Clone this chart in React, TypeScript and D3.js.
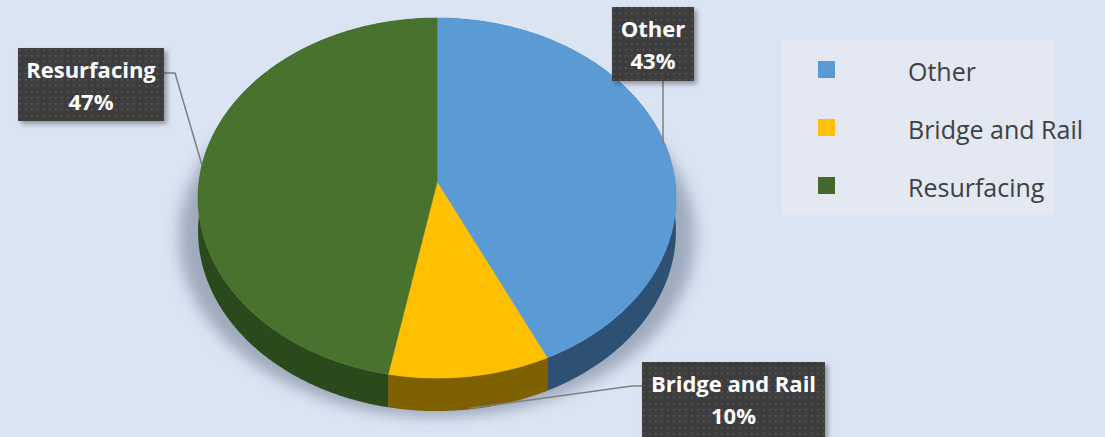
import React from 'react';
import * as d3 from 'd3';

// chart data
const categories = ['Other', 'Bridge and Rail', 'Resurfacing'];
const values = [43, 10, 47];
const percentLabels = ['43%', '10%', '47%'];
const topColors = ['#5b9bd5', '#ffc000', '#48722d'];
const sideColors = ['#2e5073', '#7f6000', '#2b4a1c'];
const legendColors = ['#5b9bd5', '#ffc000', '#436a2b'];

// label box layout (box + elbow of the leader line)
const labelBoxes = [
  { x: 612, y: 7, w: 82, h: 74, elbow: null as null | [number, number], start: [663, 81] as [number, number] },
  { x: 642, y: 362, w: 183, h: 75, elbow: [632, 386] as [number, number], start: [642, 386] as [number, number] },
  { x: 18, y: 48, w: 146, h: 73, elbow: [175, 73] as [number, number], start: [164, 73] as [number, number] },
];

const W = 1105;
const H = 437;

// pie geometry (perspective circle)
const apex = { x: 437, y: 182 };
const k = 0.089; // perspective strength
const sx = 238;
const sy = 178.6;
const depth = 33;

const project = (a: number, dy = 0): [number, number] => {
  const X = Math.sin(a);
  const Y = -Math.cos(a);
  const w = 1 - k * Y;
  return [apex.x + (sx * X) / w, apex.y + (sy * Y) / w + dy];
};

const arcPoints = (a0: number, a1: number, dy = 0) => {
  const n = Math.max(2, Math.ceil((a1 - a0) / 0.01));
  return d3.range(n + 1).map((i) => project(a0 + ((a1 - a0) * i) / n, dy));
};

const line = d3.line();

export default function App() {
  const arcs = d3.pie<number>().sort(null).value((d) => d)(values);

  const tops = arcs.map((a) => {
    const pts = arcPoints(a.startAngle, a.endAngle);
    return line([[apex.x, apex.y], ...pts])! + 'Z';
  });

  const sides = arcs.map((a) => {
    const top = arcPoints(a.startAngle, a.endAngle);
    const bottom = arcPoints(a.startAngle, a.endAngle, depth).reverse();
    return line([...top, ...bottom])! + 'Z';
  });

  const shadowPath = line(arcPoints(0, Math.PI * 2, depth + 6))! + 'Z';

  // leader anchors at mid-angle on the pie edge (front slices on the bottom rim)
  const anchors = arcs.map((a) => {
    const mid = (a.startAngle + a.endAngle) / 2;
    const front = -Math.cos(mid) > 0.9;
    return project(mid, front ? depth - 1 : 0);
  });

  return (
    <svg
      width={W}
      height={H}
      style={{ position: 'absolute', left: 0, top: 0, display: 'block' }}
      fontFamily="'Open Sans', sans-serif"
    >
      <defs>
        <pattern id="dots" width={6} height={6} patternUnits="userSpaceOnUse">
          <rect width={6} height={6} fill="#3c3c3c" />
          <rect x={1} y={1} width={1.6} height={1.6} fill="#585858" />
        </pattern>
        <filter id="boxShadow" x="-20%" y="-20%" width="140%" height="150%">
          <feDropShadow dx={3} dy={3} stdDeviation={2.5} floodColor="#000" floodOpacity={0.35} />
        </filter>
        <filter id="pieShadow" x="-20%" y="-20%" width="140%" height="140%">
          <feGaussianBlur stdDeviation={7} />
        </filter>
      </defs>

      <rect width={W} height={H} fill="#dbe4f3" />

      {/* soft shadow under the pie */}
      <path
        d={shadowPath}
        transform={`translate(${apex.x},0) scale(1.08,1) translate(${-apex.x},0)`}
        fill="#8a96aa"
        opacity={0.75}
        filter="url(#pieShadow)"
      />

      {/* side walls */}
      {sides.map((d, i) => (
        <path key={'s' + i} d={d} fill={sideColors[i]} />
      ))}

      {/* top faces */}
      {tops.map((d, i) => (
        <path key={'t' + i} d={d} fill={topColors[i]} stroke={topColors[i]} strokeWidth={0.6} />
      ))}

      {/* leader lines */}
      {labelBoxes.map((b, i) => {
        const pts: [number, number][] = [b.start];
        if (b.elbow) pts.push(b.elbow);
        pts.push(i === 0 ? [b.start[0], anchors[i][1]] : anchors[i]);
        return <path key={'l' + i} d={line(pts)!} fill="none" stroke="#7f7f7f" strokeWidth={1.5} />;
      })}

      {/* data labels */}
      {labelBoxes.map((b, i) => (
        <g key={'b' + i}>
          <rect x={b.x} y={b.y} width={b.w} height={b.h} fill="url(#dots)" filter="url(#boxShadow)" />
          <text textAnchor="middle" fill="#ffffff" fontWeight="bold" fontSize={22}>
            <tspan x={b.x + b.w / 2} y={b.y + 30}>{categories[i]}</tspan>
            <tspan x={b.x + b.w / 2} y={b.y + 62}>{percentLabels[i]}</tspan>
          </text>
        </g>
      ))}

      {/* legend */}
      <g>
        <rect x={781} y={40} width={274} height={175} fill="#e3e8f3" />
        {categories.map((c, i) => (
          <g key={'lg' + i} transform={`translate(818,${61 + i * 58})`}>
            <rect width={17} height={17} fill={legendColors[i]} />
            <text x={90} y={20} fontSize={25} fill="#404040">
              {c}
            </text>
          </g>
        ))}
      </g>
    </svg>
  );
}
